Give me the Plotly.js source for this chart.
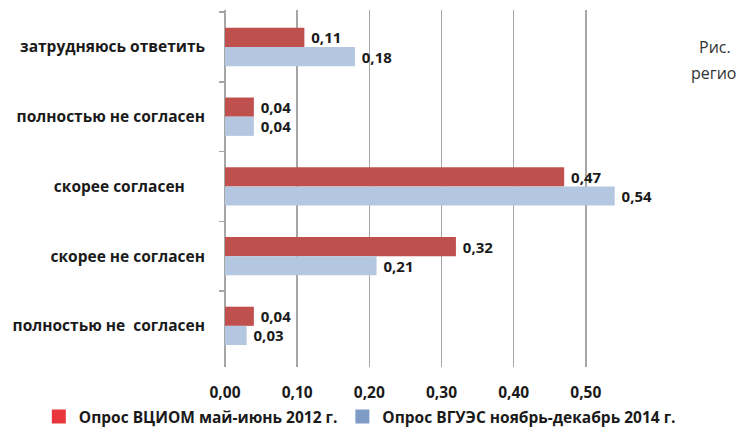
<!DOCTYPE html>
<html>
<head>
<meta charset="utf-8">
<script src="https://cdn.plot.ly/plotly-3.0.1.min.js"></script>
<style>html,body{margin:0;padding:0;background:#fff;overflow:hidden}</style>
</head>
<body>
<div id="chart" style="width:739px;height:432px"></div>
<script>
const categories = ["затрудняюсь ответить", "полностью не согласен", "скорее согласен\u00a0\u00a0\u00a0\u00a0\u00a0", "скорее не согласен", "полностью не  согласен"];
const seriesNames = ["Опрос ВЦИОМ май-июнь 2012 г.", "Опрос ВГУЭС ноябрь-декабрь 2014 г."];
const vciom2012 = [0.11, 0.04, 0.47, 0.32, 0.04];
const vgues2014 = [0.18, 0.04, 0.54, 0.21, 0.03];
const tickValues = [0, 0.1, 0.2, 0.3, 0.4, 0.5, 0.6];
const tickLabels = ["0,00", "0,10", "0,20", "0,30", "0,40", "0,50", ""];

const font = "Open Sans, Liberation Sans, sans-serif";
const txt = {family: font, size: 15.5, color: "#1a1a1a", weight: "bold"};
const valTxt = {family: font, size: 15, color: "#1a1a1a", weight: "bold"};

const barCommon = {
  type: "bar", orientation: "h", y: categories, showlegend: false,
  texttemplate: "\u00a0%{x:.2f}", textposition: "outside", constraintext: "none",
  cliponaxis: false, textfont: valTxt, hoverinfo: "x+y"
};
const traces = [
  Object.assign({}, barCommon, {x: vciom2012, name: seriesNames[0], marker: {color: "#c0504d"}}),
  Object.assign({}, barCommon, {x: vgues2014, name: seriesNames[1], marker: {color: "#b3c7e1"}}),
  {type: "scatter", mode: "markers", x: [null], y: [null], name: seriesNames[0],
   marker: {symbol: "square", size: 14, color: "#e8363c"}, hoverinfo: "skip"},
  {type: "scatter", mode: "markers", x: [null], y: [null], name: seriesNames[1],
   marker: {symbol: "square", size: 14, color: "#7f9cc6"}, hoverinfo: "skip"}
];

const layout = {
  width: 739, height: 432,
  margin: {l: 225, r: 81, t: 10, b: 65, autoexpand: false},
  paper_bgcolor: "#fff", plot_bgcolor: "#fff",
  separators: ", ",
  barmode: "group", bargap: 0.45, bargroupgap: 0,
  font: {family: font, color: "#1a1a1a"},
  xaxis: {
    range: [0, 0.6], tickvals: tickValues, ticktext: tickLabels,
    showgrid: true, gridcolor: "#a6a6a6", gridwidth: 1.5,
    zeroline: true, zerolinecolor: "#a6a6a6", zerolinewidth: 1.5,
    showline: false, ticks: "", ticklabelstandoff: 14,
    tickfont: txt, fixedrange: true
  },
  yaxis: {
    type: "category", range: [4.59, -0.53],
    showgrid: false, zeroline: false, showline: false,
    ticks: "outside", tickson: "boundaries", ticklen: 5, tickcolor: "#a6a6a6", tickwidth: 1.5,
    ticklabelstandoff: 19, tickfont: txt, fixedrange: true
  },
  legend: {
    orientation: "h", xref: "paper", yref: "paper",
    x: -0.43, xanchor: "left", y: -0.14, yanchor: "middle",
    font: {family: font, size: 15.5, color: "#1a1a1a", weight: "bold"},
    itemwidth: 30, tracegroupgap: 0
  },
  annotations: [
    {xref: "paper", yref: "paper", x: 1.09, y: 0.896, xanchor: "left", yanchor: "middle",
     text: "Рис.", showarrow: false, font: {family: font, size: 16, color: "#333"}},
    {xref: "paper", yref: "paper", x: 1.185, y: 0.824, xanchor: "right", yanchor: "middle",
     text: "регио", showarrow: false, font: {family: font, size: 16, color: "#333"}}
  ]
};

Plotly.newPlot("chart", traces, layout, {displayModeBar: false, staticPlot: true});
</script>
</body>
</html>
